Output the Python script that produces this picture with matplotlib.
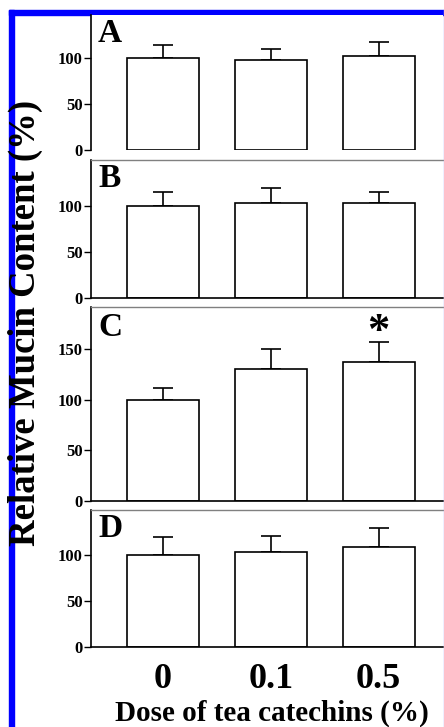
import matplotlib
matplotlib.use("Agg")
import matplotlib.pyplot as plt
from matplotlib.patches import Rectangle
from matplotlib.lines import Line2D

plt.rcParams['font.family'] = ['Liberation Serif', 'DejaVu Serif']
plt.rcParams['font.weight'] = 'bold'

doses = ["0", "0.1", "0.5"]
panels = ["A", "B", "C", "D"]
values = {
    "A": [100, 97.5, 102.5],
    "B": [100, 103.3, 103.3],
    "C": [100, 130.4, 137.3],
    "D": [100, 103.6, 109.0],
}
errors = {
    "A": [14.0, 12.5, 15.2],
    "B": [15.6, 16.3, 11.3],
    "C": [11.3, 19.5, 20.5],
    "D": [19.6, 16.8, 20.0],
}
yticks = {
    "A": [0, 50, 100],
    "B": [0, 50, 100],
    "C": [0, 50, 100, 150],
    "D": [0, 50, 100],
}
ylims = {"A": 147, "B": 150, "C": 192, "D": 149}
significant = {"C": [2]}

W, H = 444, 727
fig = plt.figure(figsize=(W / 100, H / 100), dpi=100)

# pixel geometry (top, bottom) of each panel
geom = {"A": (15, 150), "B": (160, 297.7), "C": (307, 500.7), "D": (510, 646.7)}
left_px, right_px = 91, 443

def rect(top, bottom):
    return [left_px / W, 1 - bottom / H, (right_px - left_px) / W, (bottom - top) / H]

xs = list(range(len(doses)))
for p in panels:
    ax = fig.add_axes(rect(*geom[p]))
    vals = values[p]
    errs = errors[p]
    ax.bar(xs, vals, width=0.668, color='white', edgecolor='black', linewidth=1.2, zorder=2)
    ax.errorbar(xs, vals, yerr=[[0] * len(vals), errs], fmt='none', ecolor='black',
                elinewidth=1.2, capsize=7, capthick=1.2, zorder=1)
    ax.set_xlim(-0.668, 2.597)
    ax.set_ylim(0, ylims[p])
    ax.set_yticks(yticks[p])
    ax.set_yticklabels([str(t) for t in yticks[p]], fontsize=12, fontweight='bold')
    ax.tick_params(axis='y', length=5, width=1.0, pad=1, direction='out')
    ax.spines['right'].set_visible(False)
    ax.spines['left'].set_linewidth(1.2)
    if p == "A":
        ax.spines['top'].set_visible(False)
        ax.spines['bottom'].set_visible(False)
    else:
        ax.spines['top'].set_color('#808080')
        ax.spines['top'].set_linewidth(1.0)
        ax.spines['bottom'].set_linewidth(1.2)
    ax.text(0.02, 0.975, p, transform=ax.transAxes, fontsize=24, fontweight='bold',
            ha='left', va='top')
    for i in significant.get(p, []):
        ax.text(xs[i], vals[i] + errs[i] + 9, "*", fontsize=32, fontweight='bold',
                ha='center', va='center')
    if p == "D":
        ax.set_xticks(xs)
        ax.set_xticklabels(doses, fontsize=26, fontweight='bold')
        ax.tick_params(axis='x', length=0, pad=12)
    else:
        ax.set_xticks([])

fig.text(272 / W, 1 - 700 / H, "Dose of tea catechins (%)", fontsize=21,
         fontweight='bold', ha='center', va='top')
fig.text(25 / W, 1 - 323 / H, "Relative Mucin Content (%)", fontsize=26.5,
         fontweight='bold', rotation=90, ha='center', va='center')

# blue frame
fig.add_artist(Rectangle((9 / W, 0), 5 / W, 1 - 10 / H, transform=fig.transFigure,
                         color='#0000ff', zorder=0))
fig.add_artist(Rectangle((9 / W, 1 - 15 / H), 1 - 9 / W, 5 / H, transform=fig.transFigure,
                         color='#0000ff', zorder=0))
fig.add_artist(Line2D([443.5 / W, 443.5 / W], [0, 1 - 10 / H], transform=fig.transFigure,
                      color='#b0b0ff', linewidth=1.0))

fig.savefig("out.png", dpi=100)
